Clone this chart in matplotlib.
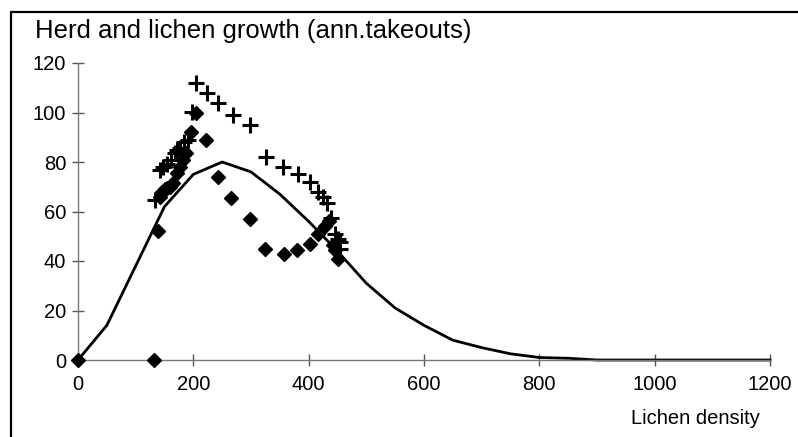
import matplotlib
matplotlib.use("Agg")
import matplotlib.pyplot as plt
from matplotlib.patches import Rectangle

# Model curve
line_x = [0, 50, 100, 150, 200, 250, 300, 350, 400, 450, 500, 550, 600, 650, 700,
          750, 800, 850, 900, 950, 1000, 1050, 1100, 1150, 1200]
line_y = [0, 14, 38, 62, 75, 80, 76, 67, 56, 44, 31, 21, 14, 8, 5,
          2.5, 1, 0.7, 0, 0, 0, 0, 0, 0, 0]

# Plus series
plus_x = [133, 142, 148, 155, 162, 168, 172, 177, 183, 190, 197, 205, 224, 243,
          269, 298, 326, 356, 382, 402, 417, 425, 431, 438, 445, 450, 454, 454]
plus_y = [64.6, 76.8, 78, 79, 80.8, 83.5, 85, 85.5, 88.2, 89, 100.3, 112, 108, 103.7,
          99, 95, 82, 78, 75, 72, 68, 66, 63.3, 57.2, 51, 49, 47.8, 44.8]

# Diamond series
dia_x = [0, 132, 138, 142, 145, 150, 154, 160, 165, 171, 177, 182, 188, 196, 205,
         222, 243, 266, 298, 325, 357, 380, 403, 417, 428, 436, 443, 446, 451]
dia_y = [0, 0, 52, 66, 68, 69, 69.4, 70, 71.4, 75.4, 78, 81, 83.5, 92.3, 99.7,
         89, 74, 65.5, 57, 45, 42.8, 44.4, 46.7, 51, 54, 56, 46.5, 44.4, 41]

x_ticks = [0, 200, 400, 600, 800, 1000, 1200]
y_ticks = [0, 20, 40, 60, 80, 100, 120]

plt.rcParams['font.family'] = ['Liberation Sans', 'DejaVu Sans']

fig = plt.figure(figsize=(7.98, 4.37), dpi=100)
ax = fig.add_axes([78/798, 1 - 360/437, (770-78)/798, (360-63)/437])

ax.plot(line_x, line_y, color='black', lw=2.0, zorder=2, clip_on=False)
ax.plot(plus_x, plus_y, ls='none', marker='+', ms=11, mew=2.2, color='black',
        zorder=3, clip_on=False)
ax.plot(dia_x, dia_y, ls='none', marker='D', ms=7.5, color='black', zorder=3,
        clip_on=False)

ax.set_xlim(0, 1200)
ax.set_ylim(0, 120)
ax.set_xticks(x_ticks)
ax.set_yticks(y_ticks)
for s in ['top', 'right']:
    ax.spines[s].set_visible(False)
for s in ['left', 'bottom']:
    ax.spines[s].set_color('#777777')
    ax.spines[s].set_linewidth(1.0)
ax.tick_params(direction='inout', length=9, width=1.0, color='#555555',
               labelsize=14.5, labelcolor='black')
ax.tick_params(axis='x', pad=6)
ax.tick_params(axis='y', pad=4)

fig.text(35/798, 1 - 31/437, 'Herd and lichen growth (ann.takeouts)',
         fontsize=18.5, ha='left', va='center')
fig.text(760/798, 1 - 418/437, 'Lichen density', fontsize=14.5,
         ha='right', va='center')

fig.patches.append(Rectangle((11/798, -0.1), 1.2, 1 - 12/437 + 0.1,
                             transform=fig.transFigure, fill=False,
                             edgecolor='black', lw=1.6))

fig.savefig('out.png', dpi=100)
